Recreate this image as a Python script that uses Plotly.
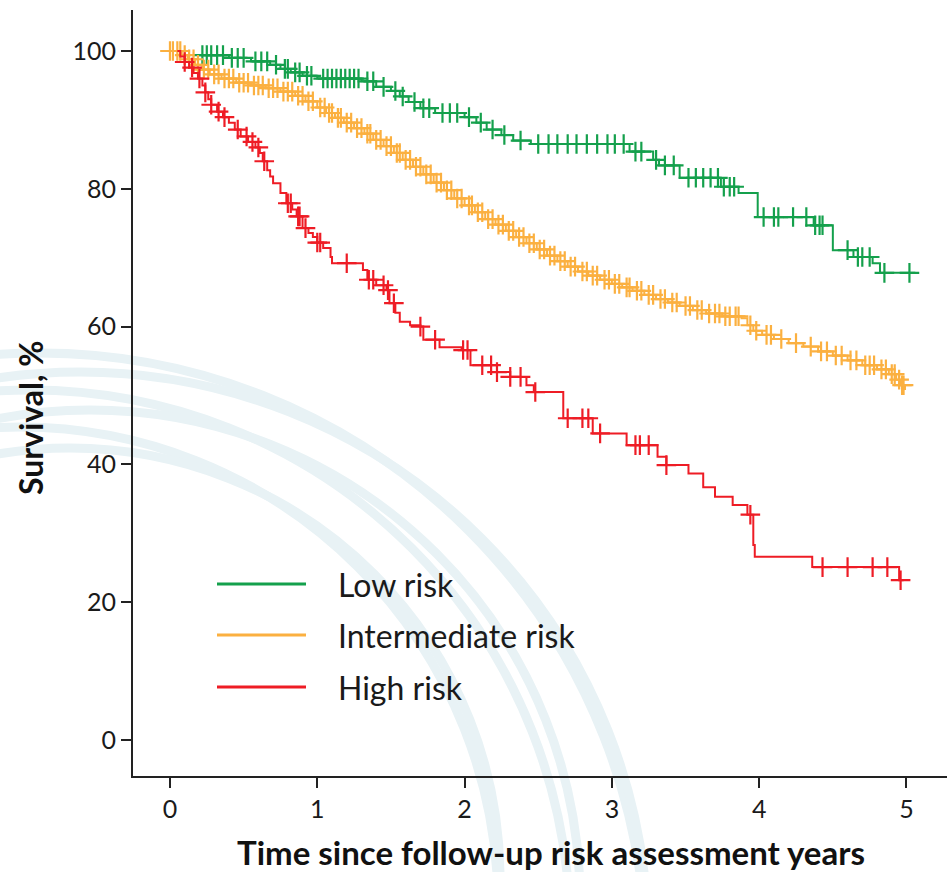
import numpy as np
import plotly.graph_objects as go

# ---------------- data ----------------
low_t = [0.22, 0.40, 0.55, 0.68, 0.75, 0.82, 0.90, 1.00, 1.30, 1.40, 1.50, 1.56, 1.62,
         1.70, 1.80, 2.00, 2.08, 2.15, 2.25, 2.33, 2.45, 3.12, 3.28, 3.32, 3.46, 3.74,
         3.86, 3.99, 4.37, 4.50, 4.64, 4.77, 4.82, 5.06]
low_s = [99.4, 99.0, 98.5, 98.0, 97.4, 96.9, 96.4, 96.0, 95.6, 94.8, 94.2, 93.4, 92.6,
         91.7, 91.0, 90.4, 89.6, 88.6, 87.8, 87.0, 86.5, 85.4, 84.2, 83.4, 81.6, 80.3,
         79.4, 75.9, 74.7, 71.1, 70.1, 69.2, 67.8, 67.8]
low_cens = [0.22, 0.25, 0.28, 0.32, 0.36, 0.42, 0.46, 0.50, 0.58, 0.62, 0.66, 0.72, 0.78,
            0.80, 0.85, 0.88, 0.93, 0.96, 1.04, 1.07, 1.10, 1.13, 1.16, 1.19, 1.22, 1.25,
            1.28, 1.34, 1.38, 1.45, 1.53, 1.58, 1.66, 1.72, 1.76, 1.85, 1.90, 1.95, 2.03,
            2.11, 2.19, 2.27, 2.38, 2.50, 2.57, 2.63, 2.70, 2.76, 2.83, 2.90, 2.97, 3.02,
            3.08, 3.16, 3.20, 3.30, 3.36, 3.42, 3.52, 3.57, 3.62, 3.67, 3.72, 3.76, 3.80,
            3.83, 4.03, 4.10, 4.13, 4.23, 4.32, 4.38, 4.41, 4.43, 4.60, 4.67, 4.70, 4.75,
            4.85, 5.02]

int_t = [0.00, 0.08, 0.12, 0.17, 0.22, 0.27, 0.35, 0.45, 0.55, 0.65, 0.75, 0.85, 0.92,
         1.00, 1.06, 1.12, 1.18, 1.25, 1.32, 1.38, 1.45, 1.52, 1.58, 1.65, 1.72, 1.79,
         1.86, 1.93, 2.00, 2.07, 2.14, 2.21, 2.28, 2.35, 2.42, 2.49, 2.56, 2.63, 2.70,
         2.77, 2.84, 2.92, 3.00, 3.07, 3.14, 3.22, 3.30, 3.38, 3.46, 3.55, 3.64, 3.75,
         3.88, 3.92, 3.96, 4.02, 4.10, 4.20, 4.30, 4.40, 4.50, 4.60, 4.70, 4.80, 4.88,
         4.93, 4.96, 4.99]
int_s = [100.0, 99.4, 98.8, 98.0, 97.3, 96.6, 96.0, 95.4, 95.0, 94.6, 94.1, 93.5, 92.7,
         91.8, 91.0, 90.3, 89.6, 88.8, 88.0, 87.1, 86.2, 85.2, 84.2, 83.2, 82.1, 80.9,
         79.8, 78.6, 77.6, 76.6, 75.6, 74.8, 73.9, 73.0, 72.1, 71.2, 70.3, 69.5, 68.7,
         68.0, 67.4, 66.8, 66.2, 65.7, 65.2, 64.6, 64.0, 63.5, 63.0, 62.4, 61.9, 61.5,
         61.2, 60.2, 59.4, 58.8, 58.2, 57.6, 57.1, 56.4, 55.8, 55.1, 54.4, 53.8, 53.1,
         52.3, 51.5, 50.8]
int_cens = [0.00, 0.02, 0.05, 0.07, 0.10, 0.13, 0.16, 0.19, 0.23, 0.26, 0.30, 0.33, 0.37,
            0.40, 0.43, 0.47, 0.50, 0.53, 0.57, 0.60, 0.63, 0.67, 0.70, 0.73, 0.77, 0.80,
            0.83, 0.87, 0.90, 0.94, 0.97, 1.02, 1.05, 1.08, 1.10, 1.14, 1.16, 1.20, 1.23,
            1.27, 1.30, 1.34, 1.36, 1.40, 1.43, 1.47, 1.50, 1.54, 1.56, 1.60, 1.63, 1.67,
            1.70, 1.74, 1.77, 1.81, 1.84, 1.88, 1.91, 1.95, 1.98, 2.03, 2.05, 2.09, 2.12,
            2.16, 2.19, 2.23, 2.26, 2.30, 2.33, 2.37, 2.40, 2.44, 2.47, 2.51, 2.54, 2.58,
            2.61, 2.65, 2.68, 2.72, 2.75, 2.80, 2.83, 2.87, 2.90, 2.95, 2.98, 3.02, 3.05,
            3.10, 3.12, 3.17, 3.20, 3.25, 3.28, 3.33, 3.36, 3.41, 3.44, 3.50, 3.53, 3.58,
            3.61, 3.66, 3.70, 3.73, 3.77, 3.80, 3.84, 3.86, 3.94, 3.98, 4.05, 4.08, 4.15,
            4.25, 4.35, 4.42, 4.46, 4.52, 4.56, 4.62, 4.66, 4.72, 4.75, 4.78, 4.83, 4.86,
            4.90, 4.92, 4.95, 4.97, 4.98]

high_t = [0.05, 0.07, 0.10, 0.13, 0.16, 0.19, 0.22, 0.24, 0.26, 0.28, 0.32, 0.36, 0.40,
          0.44, 0.48, 0.53, 0.58, 0.61, 0.63, 0.66, 0.68, 0.70, 0.75, 0.79, 0.83, 0.86,
          0.90, 0.94, 0.97, 1.00, 1.04, 1.09, 1.10, 1.31, 1.34, 1.40, 1.47, 1.49, 1.53,
          1.56, 1.63, 1.70, 1.72, 1.83, 1.98, 2.04, 2.22, 2.31, 2.42, 2.47, 2.67, 2.87,
          3.10, 3.31, 3.37, 3.52, 3.62, 3.70, 3.82, 3.92, 3.96, 3.97, 4.36, 4.95, 4.98]
high_s = [100.0, 99.2, 98.4, 97.6, 96.8, 96.0, 95.0, 94.0, 93.0, 92.2, 91.2, 90.4, 89.6,
          88.6, 87.6, 86.8, 86.0, 85.2, 84.0, 82.7, 81.8, 80.8, 79.4, 77.9, 77.0, 76.0,
          74.3, 73.6, 73.0, 72.2, 71.4, 70.1, 69.2, 68.2, 66.8, 66.0, 65.3, 63.4, 62.0,
          60.7, 60.2, 60.0, 58.1, 57.0, 56.6, 54.4, 53.4, 52.7, 51.5, 50.5, 46.7, 44.5,
          42.8, 41.1, 39.9, 38.7, 36.7, 35.3, 34.1, 32.7, 28.3, 26.6, 25.1, 23.2, 23.2]
high_cens = [0.10, 0.15, 0.20, 0.24, 0.28, 0.33, 0.37, 0.46, 0.52, 0.56, 0.60, 0.64, 0.80,
             0.82, 0.87, 0.88, 0.92, 1.00, 1.02, 1.20, 1.35, 1.38, 1.45, 1.48, 1.52, 1.70,
             1.80, 1.99, 2.02, 2.12, 2.18, 2.22, 2.31, 2.38, 2.48, 2.70, 2.80, 2.84, 2.92,
             3.16, 3.19, 3.25, 3.37, 3.94, 4.43, 4.60, 4.77, 4.87, 4.96]

groups = ["Low risk", "Intermediate risk", "High risk"]
colors = ["#14a04c", "#fbb040", "#ee1c25"]

x_ticks = [0, 1, 2, 3, 4, 5]
y_ticks = [0, 20, 40, 60, 80, 100]

# ---------------- layout geometry ----------------
W, H = 949, 872
ML, MR, MT, MB = 133, 2, 10, 96
PW, PH = W - ML - MR, H - MT - MB


def px_x(x):
    return (x - ML) / PW


def px_y(y):
    return (H - MB - y) / PH


def step_lookup(t_ev, s_ev, tc):
    t_ev = np.asarray(t_ev)
    s_ev = np.asarray(s_ev)
    idx = np.searchsorted(t_ev, np.asarray(tc), side="right") - 1
    idx = np.clip(idx, 0, len(s_ev) - 1)
    return s_ev[idx]


fig = go.Figure()
series = [(low_t, low_s, low_cens), (int_t, int_s, int_cens), (high_t, high_s, high_cens)]
for (tt, ss, cc), name, col in zip(series, groups, colors):
    fig.add_trace(go.Scatter(x=tt, y=ss, mode="lines", line=dict(color=col, width=2, shape="hv"),
                             name=name, showlegend=False, hoverinfo="skip"))
    fig.add_trace(go.Scatter(x=cc, y=step_lookup(tt, ss, cc), mode="markers",
                             marker=dict(symbol="cross-thin", size=14, color=col,
                                         line=dict(color=col, width=2.2)),
                             name=name + " censored", showlegend=False, hoverinfo="skip"))

shapes = []
# faint decorative arcs (background watermark)
arcs = [(40, 959, 606), (80, 940, 568), (30, 930, 540), (90, 900, 490), (20, 905, 478), (70, 878, 430)]
for cx, cy, r in arcs:
    shapes.append(dict(type="circle", xref="paper", yref="paper",
                       x0=px_x(cx - r), x1=px_x(cx + r), y0=px_y(cy + r), y1=px_y(cy - r),
                       line=dict(color="#e8f2f5", width=9), layer="below"))

annotations = []
# custom legend
leg_y = [584, 635, 687]
for name, col, yy in zip(groups, colors, leg_y):
    shapes.append(dict(type="line", xref="paper", yref="paper", x0=px_x(217), x1=px_x(306),
                       y0=px_y(yy), y1=px_y(yy), line=dict(color=col, width=3)))
    annotations.append(dict(xref="paper", yref="paper", x=px_x(336), y=px_y(yy), text=name,
                            showarrow=False, xanchor="left", yanchor="middle",
                            font=dict(family="Lato", size=32, color="#1a1a1a")))

annotations.append(dict(xref="paper", yref="paper", x=px_x(551), y=px_y(852),
                        text="<b>Time since follow-up risk assessment years</b>",
                        showarrow=False, xanchor="center", yanchor="middle",
                        font=dict(family="Lato", size=33, color="#111111")))
annotations.append(dict(xref="paper", yref="paper", x=px_x(30), y=px_y(418),
                        text="<b>Survival, %</b>", textangle=-90,
                        showarrow=False, xanchor="center", yanchor="middle",
                        font=dict(family="Lato", size=32, color="#111111")))

fig.update_layout(
    width=W, height=H,
    margin=dict(l=ML, r=MR, t=MT, b=MB),
    paper_bgcolor="white", plot_bgcolor="rgba(0,0,0,0)",
    shapes=shapes, annotations=annotations,
    font=dict(family="Lato", color="#1a1a1a"),
)
fig.update_xaxes(range=[-0.251, 5.275], tickvals=x_ticks, ticks="outside", ticklen=10, tickwidth=2,
                 tickcolor="#222", showline=True, linewidth=2, linecolor="#222", showgrid=False,
                 zeroline=False, tickfont=dict(family="Lato", size=25, color="#1a1a1a"))
fig.update_yaxes(range=[-5.22, 105.95], tickvals=y_ticks, ticks="outside", ticklen=10, tickwidth=2,
                 tickcolor="#222", showline=True, linewidth=2, linecolor="#222", showgrid=False,
                 zeroline=False, tickfont=dict(family="Lato", size=25, color="#1a1a1a"))

fig.write_html("out.html", config={"displayModeBar": False},
               post_script="document.body.style.margin='0';document.body.style.overflow='hidden';")
